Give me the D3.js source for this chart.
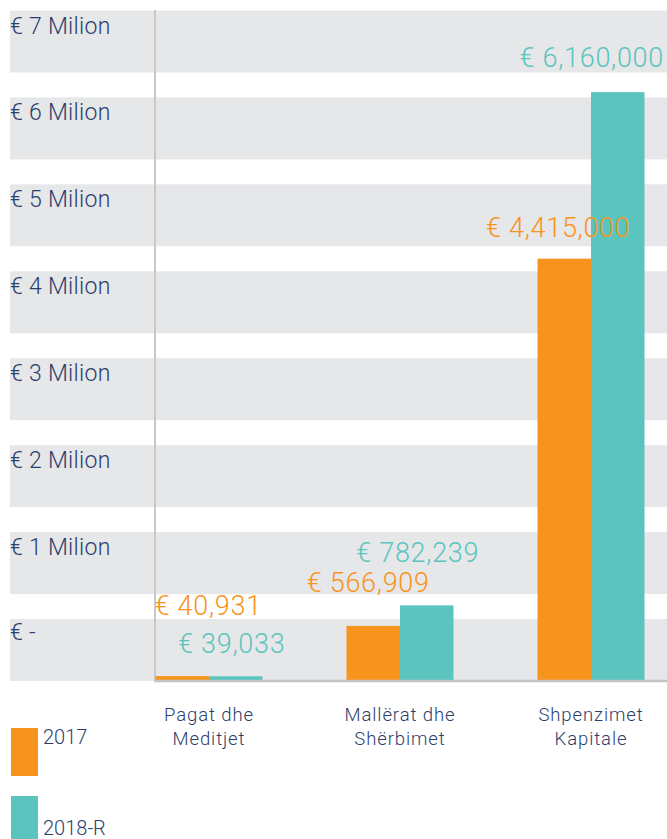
<!DOCTYPE html>
<html>
<head>
<meta charset="utf-8">
<script src="https://cdn.jsdelivr.net/npm/d3@7"></script>
<style>
    body { margin: 0; background: #fff; }
    svg { display: block; font-family: Roboto, "Liberation Sans", Arial, sans-serif; font-weight: 300; }
</style>
</head>
<body>
<svg id="chart" width="667" height="839"></svg>
<script>

    // data
    var categories = [["Pagat dhe", "Meditjet"], ["Mallërat dhe", "Shërbimet"], ["Shpenzimet", "Kapitale"]];
    var seriesNames = ["2017", "2018-R"];
    var values2017 = [40931, 566909, 4415000];
    var values2018 = [39033, 782239, 6160000];
    var tickLabels = ["€ 7 Milion", "€ 6 Milion", "€ 5 Milion", "€ 4 Milion", "€ 3 Milion", "€ 2 Milion", "€ 1 Milion", "€ -"];

    // label nudges (dx from bar centre, dy from bar top) - hand placed like the original
    var nudge2017 = [[26, -61], [-5, -34], [-6, -22]];
    var nudge2018 = [[-4, -23], [-9, -43], [-26, -25]];

    var colors = {"2017": "#f7941d", "2018-R": "#5bc4bf"};
    var navy = "#2c3e6b";

    var svg = d3.select("#chart"),
        width = +svg.attr("width");

    var axisX = 155,
        baseY = 681;

    var catKeys = categories.map(function (c) { return c.join(" "); });

    var x = d3.scalePoint().domain(catKeys).range([209, 591]);
    var xInner = d3.scaleBand().domain(seriesNames).range([-53.5, 53.5]);
    var y = d3.scaleLinear().domain([0, 7000000]).range([680, 12]);

    // grey bands behind the chart, one per tick label
    var bands = d3.scaleBand().domain(tickLabels).range([10.5, baseY]).paddingInner(0.287).paddingOuter(0);

    svg.append("g").selectAll("rect")
        .data(tickLabels)
        .enter().append("rect")
        .attr("x", 10)
        .attr("y", function (d) { return bands(d); })
        .attr("width", width - 10)
        .attr("height", bands.bandwidth())
        .attr("fill", "#e6e7e9");

    svg.append("g").selectAll("text")
        .data(tickLabels)
        .enter().append("text")
        .attr("x", 10)
        .attr("y", function (d, i) { return bands(d) + (i == tickLabels.length - 1 ? 21 : 23); })
        .attr("fill", navy)
        .style("font-size", "23px")
        .style("letter-spacing", "0.3px")
        .text(function (d) { return d; });

    // axis lines
    svg.append("line")
        .attr("x1", axisX).attr("x2", axisX)
        .attr("y1", 10).attr("y2", baseY)
        .style("stroke", "#c8c8c8")
        .style("stroke-width", 2);

    var rows = [];
    catKeys.forEach(function (k, i) {
        rows.push({cat: k, series: "2017", value: values2017[i], nudge: nudge2017[i]});
        rows.push({cat: k, series: "2018-R", value: values2018[i], nudge: nudge2018[i]});
    });

    svg.append("g").selectAll("rect")
        .data(rows)
        .enter().append("rect")
        .attr("x", function (d) { return x(d.cat) + xInner(d.series); })
        .attr("y", function (d) { return y(d.value); })
        .attr("width", xInner.bandwidth())
        .attr("height", function (d) { return y(0) - y(d.value); })
        .attr("fill", function (d) { return colors[d.series]; });

    svg.append("line")
        .attr("x1", axisX - 1).attr("x2", width)
        .attr("y1", baseY).attr("y2", baseY)
        .style("stroke", "#c4c4c4")
        .style("stroke-width", 2.5);

    var fmt = d3.format(",");

    svg.append("g").selectAll("text")
        .data(rows)
        .enter().append("text")
        .attr("x", function (d) { return x(d.cat) + xInner(d.series) + xInner.bandwidth() / 2 + d.nudge[0]; })
        .attr("y", function (d) { return y(d.value) + d.nudge[1]; })
        .attr("text-anchor", "middle")
        .attr("fill", function (d) { return colors[d.series]; })
        .style("font-size", "27px")
        .style("letter-spacing", "0.7px")
        .text(function (d) { return "€ " + fmt(d.value); });

    // category labels under the axis
    var catText = svg.append("g").selectAll("text")
        .data(categories)
        .enter().append("text")
        .attr("text-anchor", "middle")
        .attr("fill", navy)
        .style("font-size", "18.5px")
        .style("letter-spacing", "0.9px");

    catText.selectAll("tspan")
        .data(function (d, i) { return d.map(function (line) { return {line: line, key: catKeys[i]}; }); })
        .enter().append("tspan")
        .attr("x", function (d) { return x(d.key); })
        .attr("y", function (d, j) { return 721 + j * 24; })
        .text(function (d) { return d.line; });

    // legend
    var legend = svg.append("g").selectAll("g")
        .data(seriesNames)
        .enter().append("g")
        .attr("transform", function (d, i) { return "translate(11," + (728 + i * 68) + ")"; });

    legend.append("rect")
        .attr("width", 27)
        .attr("height", 48)
        .attr("fill", function (d) { return colors[d]; });

    legend.append("text")
        .attr("x", 32)
        .attr("y", function (d, i) { return i == 0 ? 16 : 39; })
        .attr("fill", navy)
        .style("font-size", "20px")
        .text(function (d) { return d; });

</script>
</body>
</html>
